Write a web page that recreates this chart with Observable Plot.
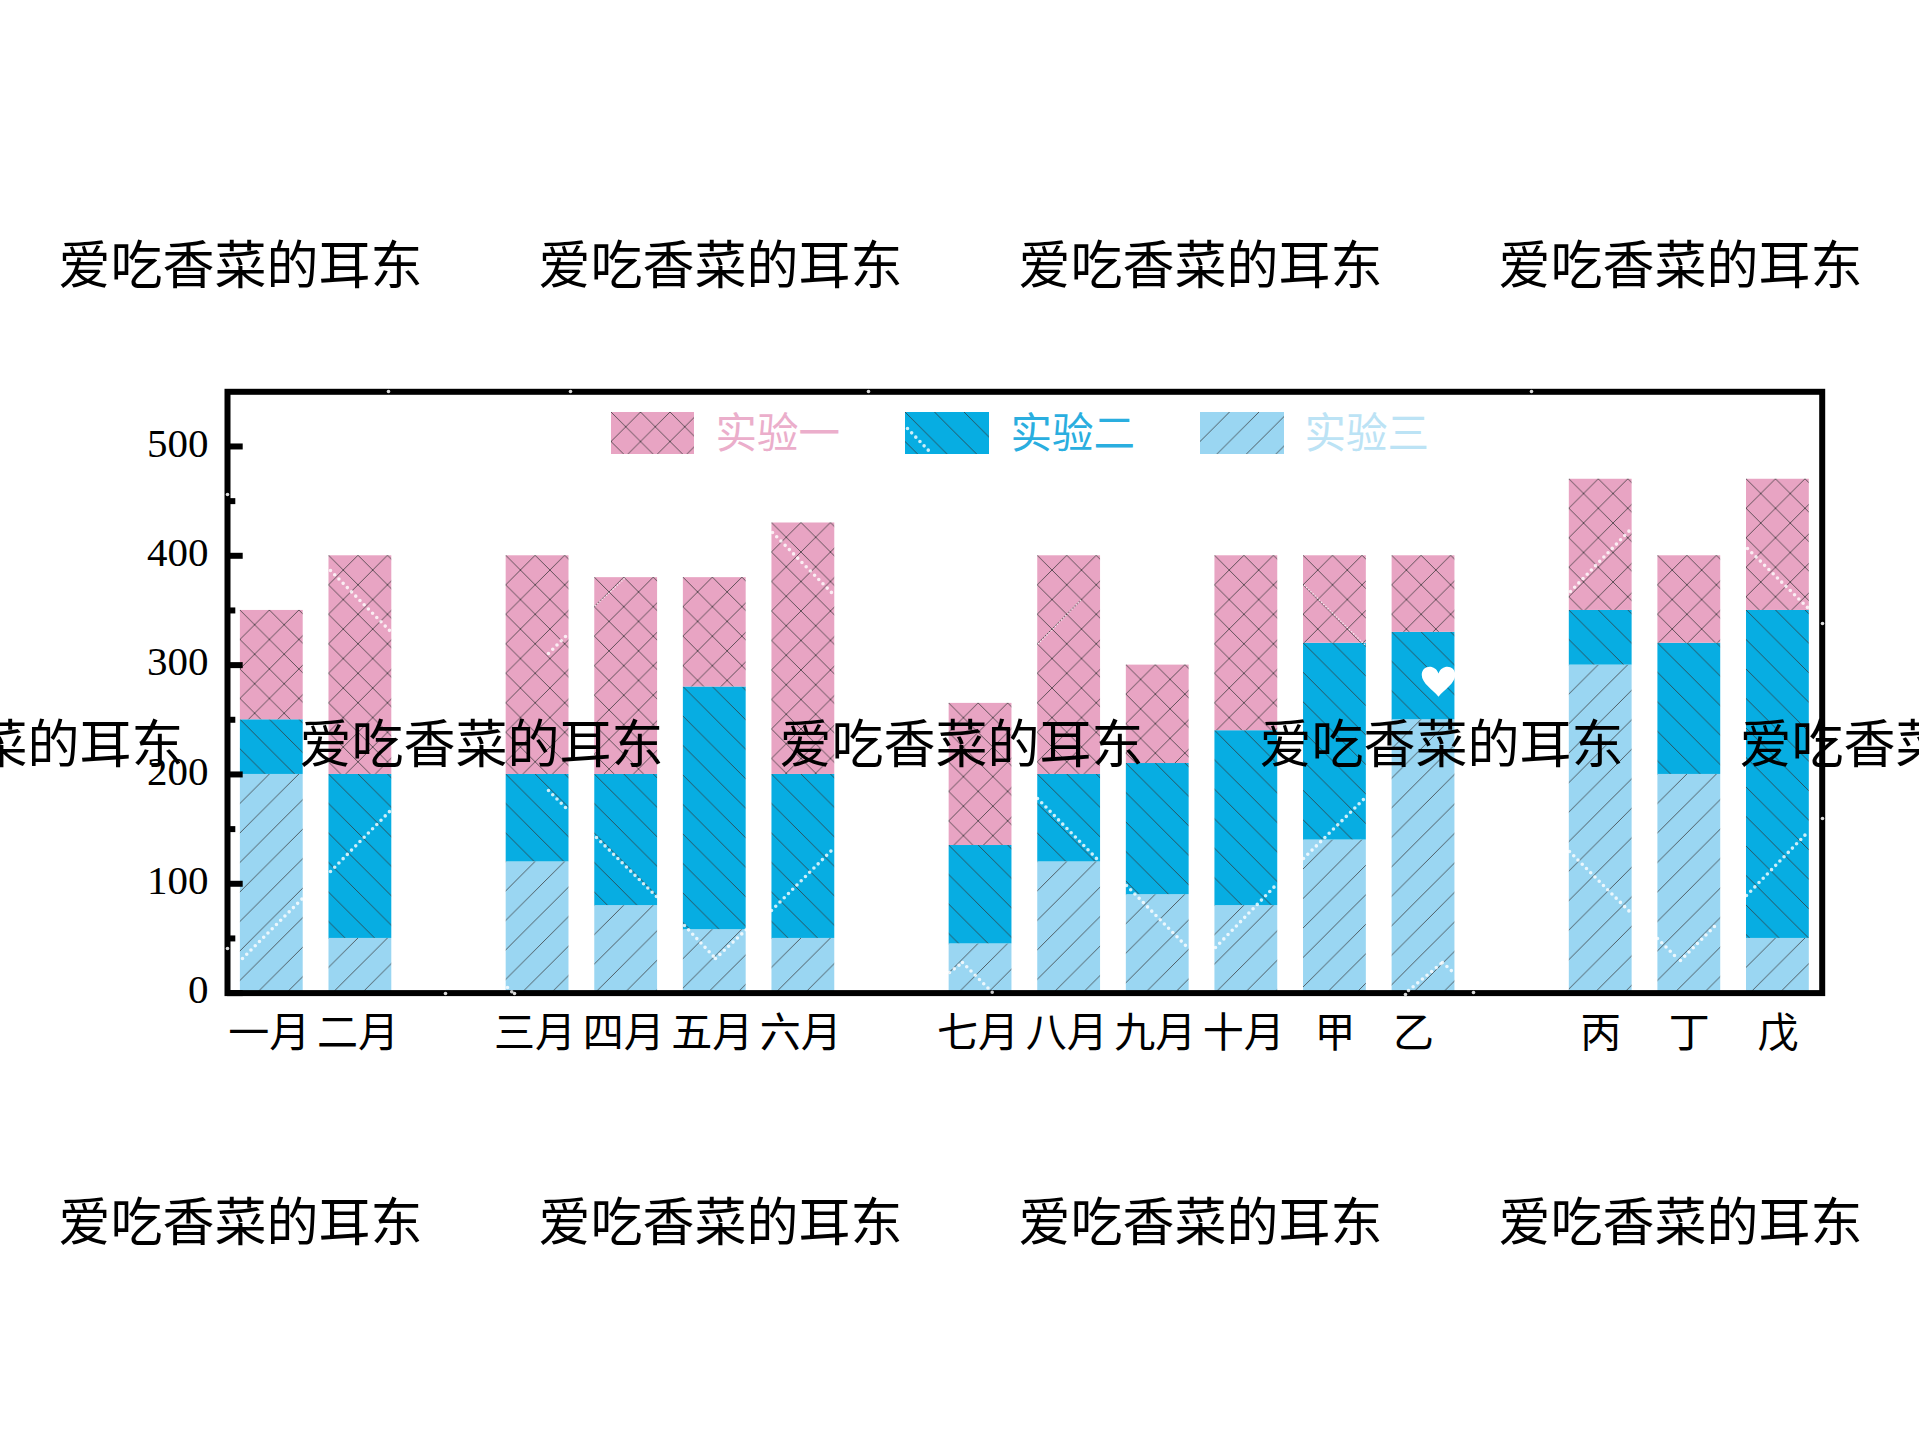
<!DOCTYPE html>
<html><head><meta charset="utf-8">
<script src="https://cdn.jsdelivr.net/npm/d3@7"></script>
<script src="https://cdn.jsdelivr.net/npm/@observablehq/plot@0.6"></script>
<style>
html,body{margin:0;padding:0;background:#fff;width:1919px;height:1441px;overflow:hidden}
#wrap{position:relative;width:1919px;height:1441px}
#wrap svg{position:absolute;left:0;top:0;background:transparent;overflow:hidden}
</style></head><body><div id="wrap"></div>
<script>
const months=["一月","二月","三月","四月","五月","六月","七月","八月","九月","十月","甲","乙","丙","丁","戊"];
const twoCharLabels=months.filter(m=>m.length===2);
const centredLabels=["甲","丙","丁","戊"];
const shiftedLabels=["乙"];
const slots=["一月","二月"," ","三月","四月","五月","六月","  ","七月","八月","九月","十月","甲","乙","   ","丙","丁","戊"];
const seriesNames=["实验一","实验二","实验三"];
const seriesColors=["#E8A4C3","#07ADE2","#9AD6F2"];
const exp3=[200,50,120,80,58,50,45,120,90,80,140,250,300,200,50];
const exp2=[50,150,80,120,222,150,90,80,120,160,180,80,50,120,300];
const exp1=[100,200,200,180,100,230,130,200,90,160,80,70,120,80,120];
const yMajor=[0,100,200,300,400,500];
const yMinor=[50,150,250,350,450];
const wmText="爱吃香菜的耳东";
const wmRows=[{y:266.5,xs:[58,538,1018,1498]},{y:745.5,xs:[-181,299,779,1259,1739]},{y:1223.5,xs:[58,538,1018,1498]}];
const legendRows=[
 {name:"实验一",x1:611,x2:694,tx:715,textColor:"#EBAECB"},
 {name:"实验二",x1:905,x2:989,tx:1010,textColor:"#2AAEDF"},
 {name:"实验三",x1:1200,x2:1284,tx:1304,textColor:"#BCE3F5"}];
const dotted=[
[242,958,303,897],[330,871,392,808],[548,653,568,633],
[330,570,392,633],[548,790,568,810],[596,837,657,897],[684,925,715,958],[715,958,746,929],
[771,910,833,848],[772,532,833,594],[1037,798,1098,860],[1126,885,1188,948],[949,972,962,962],[962,962,992,992],
[1215,947,1277,883],[1303,858,1365,797],[1570,591,1631,528],[1747,548,1808,608],[1746,895,1807,832],
[1569,851,1631,913],[1657,938,1678,959],[1680,960,1718,922],[1408,990,1442,962],[1442,962,1454,973],[907,428,930,452],[507,987,513,993]
];
const thinDotted=[[595,605,624,578],[1038,643,1080,600],[1304,585,1365,645]];
const spineDots=[[388,391],[570,391],[868,391],[1531,391],[227,494],[227,948],[445,993],[514,993],[1405,994],[1473,992],[1822,623],[1822,818]];
const heart=[[1438,681]];

const serif='"Liberation Serif","Noto Sans CJK SC",serif';
const rows=[];
months.forEach((m,i)=>{
  rows.push({slot:m,series:"实验三",value:exp3[i]});
  rows.push({slot:m,series:"实验二",value:exp2[i]});
  rows.push({slot:m,series:"实验一",value:exp1[i]});
});
const xLabelOpts={tickSize:0,tickPadding:25,fontSize:41,label:null,fill:"#000",fontFamily:serif};
const main=Plot.plot({
  width:1919,height:1441,marginLeft:227,marginRight:97.3,marginTop:391.3,marginBottom:448.4,
  style:{background:"transparent",fontFamily:serif},
  x:{type:"band",domain:slots,paddingInner:0.291,paddingOuter:0.1455,round:false,label:null},
  y:{domain:[0,550],label:null},
  color:{domain:seriesNames,range:seriesColors},
  marks:[
    Plot.barY(rows,{x:"slot",y:"value",fill:"series",order:["实验三","实验二","实验一"]}),
    Plot.axisY({ticks:yMajor,tickSize:0,tickPadding:19,dy:-3,fontSize:41,label:null,fill:"#000",fontFamily:serif}),
    Plot.axisY({ticks:yMajor,text:null,label:null,tickSize:15.7,dx:15.7,strokeWidth:6,stroke:"#000",strokeOpacity:1}),
    Plot.axisY({ticks:yMinor,text:null,label:null,tickSize:8.3,dx:8.3,strokeWidth:6,stroke:"#000",strokeOpacity:1}),
    Plot.axisX({...xLabelOpts,ticks:twoCharLabels,dx:-2.5}),
    Plot.axisX({...xLabelOpts,ticks:centredLabels}),
    Plot.axisX({...xLabelOpts,ticks:shiftedLabels,dx:-10}),
    Plot.frame({stroke:"#000",strokeWidth:6,strokeOpacity:1})
  ]
});
const wmData=wmRows.flatMap(r=>r.xs.map(x=>({x,y:r.y,text:wmText})));
const heartSym={draw(ctx,size){const s=Math.sqrt(size)/2;
  ctx.moveTo(0,s*0.95);
  ctx.bezierCurveTo(-s*0.35,s*0.55,-s*1.05,s*0.1,-s*1.05,-s*0.4);
  ctx.bezierCurveTo(-s*1.05,-s*1.05,-s*0.2,-s*1.1,0,-s*0.5);
  ctx.bezierCurveTo(s*0.2,-s*1.1,s*1.05,-s*1.05,s*1.05,-s*0.4);
  ctx.bezierCurveTo(s*1.05,s*0.1,s*0.35,s*0.55,0,s*0.95);
  ctx.closePath();}};
const linkAt={x1:d=>d[0],y1:d=>d[1],x2:d=>d[2],y2:d=>d[3],stroke:"#fff",strokeLinecap:"round"};
const overlay=Plot.plot({
  width:1919,height:1441,margin:0,
  style:{background:"transparent",fontFamily:serif},
  x:{type:"identity",axis:null},y:{type:"identity",axis:null},
  color:{domain:seriesNames,range:seriesColors},
  marks:[
    Plot.rect(legendRows,{x1:"x1",x2:"x2",y1:()=>412,y2:()=>454,fill:"name"}),
    ...legendRows.map(r=>Plot.text([r],{x:"tx",y:()=>434,text:"name",fill:r.textColor,fontSize:41.5,textAnchor:"start",fontFamily:serif})),
    Plot.link(dotted,{...linkAt,strokeWidth:3.6,strokeOpacity:0.8,strokeDasharray:"0 6"}),
    Plot.link(thinDotted,{...linkAt,strokeWidth:1.6,strokeOpacity:0.8,strokeDasharray:"0 3"}),
    Plot.dot(spineDots,{x:d=>d[0],y:d=>d[1],r:1.8,fill:"#ddd",stroke:"none"}),
    Plot.dot(heart,{x:d=>d[0],y:d=>d[1],r:18,fill:"#fff",stroke:"none",symbol:heartSym}),
    Plot.text(wmData,{x:"x",y:"y",text:"text",fontSize:52,textAnchor:"start",fill:"#000",fontFamily:serif})
  ]
});
const kinds={};
seriesColors.forEach((c,i)=>kinds[c.toLowerCase()]=i);
function applyHatch(svg){
  const ns="http://www.w3.org/2000/svg";
  const defs=document.createElementNS(ns,"defs");svg.prepend(defs);
  const tile=29.5;
  svg.querySelectorAll("rect").forEach((r,i)=>{
    const col=d3.color(r.getAttribute("fill")||"");
    if(!col)return;
    const k=kinds[col.formatHex().toLowerCase()];
    if(k===undefined)return;
    const id=svg===main?`hm${i}`:`ho${i}`;
    const p=document.createElementNS(ns,"pattern");
    p.setAttribute("id",id);p.setAttribute("patternUnits","userSpaceOnUse");
    p.setAttribute("width",tile);p.setAttribute("height",tile);
    p.setAttribute("x",r.getAttribute("x")||0);p.setAttribute("y",r.getAttribute("y")||0);
    const bg=document.createElementNS(ns,"rect");
    bg.setAttribute("width",tile);bg.setAttribute("height",tile);bg.setAttribute("fill",seriesColors[k]);p.append(bg);
    const add=(x1,y1,x2,y2)=>{const l=document.createElementNS(ns,"line");
      l.setAttribute("x1",x1);l.setAttribute("y1",y1);l.setAttribute("x2",x2);l.setAttribute("y2",y2);
      l.setAttribute("stroke","#333");l.setAttribute("stroke-width",0.75);p.append(l);};
    if(k===0||k===1)add(0,0,tile,tile);
    if(k===0||k===2)add(tile,0,0,tile);
    defs.append(p);
    r.setAttribute("fill",`url(#${id})`);
  });
}
applyHatch(main);applyHatch(overlay);
document.getElementById("wrap").append(main,overlay);
</script></body></html>
